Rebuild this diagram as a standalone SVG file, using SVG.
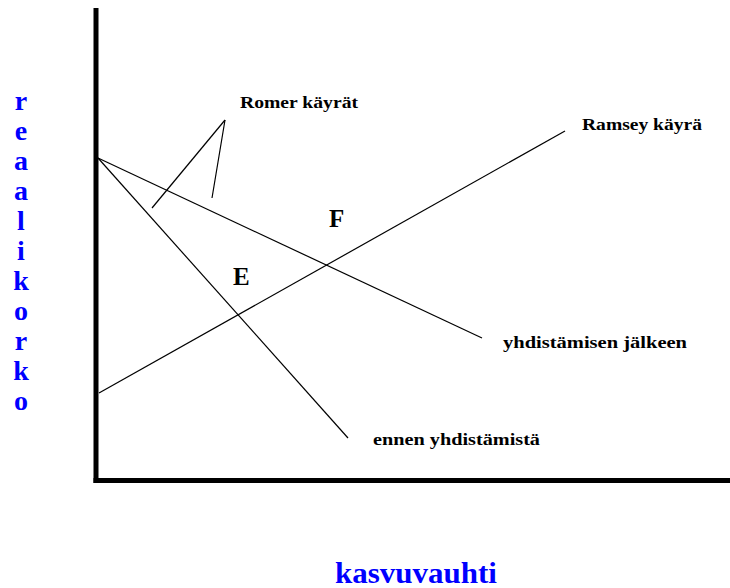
<svg xmlns="http://www.w3.org/2000/svg" width="730" height="588" viewBox="0 0 730 588">
<style>
.lbl{font-family:"Liberation Serif","DejaVu Serif",serif;font-weight:bold;fill:#000;}
.ax{font-family:"Liberation Serif","DejaVu Serif",serif;font-weight:bold;fill:#0000ff;}
.ln{stroke:#000;stroke-width:1.2;fill:none;}
</style>
<rect width="730" height="588" fill="#fff"/>
<g id="axes">
<line x1="96" y1="8" x2="96" y2="483" stroke="#000" stroke-width="5"/>
<line x1="93.5" y1="480.5" x2="730" y2="480.5" stroke="#000" stroke-width="5"/>
</g>
<g id="connectors">
<line class="ln" x1="98" y1="158" x2="348" y2="438"/>
<line class="ln" x1="98" y1="158" x2="482" y2="338"/>
<line class="ln" x1="99" y1="393" x2="565" y2="131"/>
<line class="ln" x1="225" y1="120" x2="152" y2="208"/>
<line class="ln" x1="225" y1="120" x2="212" y2="198"/>
</g>
<g id="romer"><text class="lbl" x="240" y="108" font-size="16" textLength="118" lengthAdjust="spacingAndGlyphs">Romer käyrät</text></g>
<g id="ramsey"><text class="lbl" x="582" y="130" font-size="16" textLength="120" lengthAdjust="spacingAndGlyphs">Ramsey käyrä</text></g>
<g id="jalkeen"><text class="lbl" x="503" y="348" font-size="16" textLength="184" lengthAdjust="spacingAndGlyphs">yhdistämisen jälkeen</text></g>
<g id="ennen"><text class="lbl" x="373" y="445" font-size="16" textLength="167" lengthAdjust="spacingAndGlyphs">ennen yhdistämistä</text></g>
<g id="F"><text class="lbl" x="329" y="227" font-size="25" font-weight="normal">F</text></g>
<g id="E"><text class="lbl" x="233" y="285" font-size="25" font-weight="normal">E</text></g>
<g id="xlabel"><text class="ax" x="335" y="583" font-size="30" textLength="162" lengthAdjust="spacingAndGlyphs">kasvuvauhti</text></g>
<g id="ylabel" class="ax" font-size="28" text-anchor="middle">
<text x="21" y="110">r</text>
<text x="21" y="140">e</text>
<text x="21" y="170">a</text>
<text x="21" y="200">a</text>
<text x="21" y="230">l</text>
<text x="21" y="260">i</text>
<text x="21" y="290">k</text>
<text x="21" y="320">o</text>
<text x="21" y="350">r</text>
<text x="21" y="380">k</text>
<text x="21" y="410">o</text>
</g>
</svg>
